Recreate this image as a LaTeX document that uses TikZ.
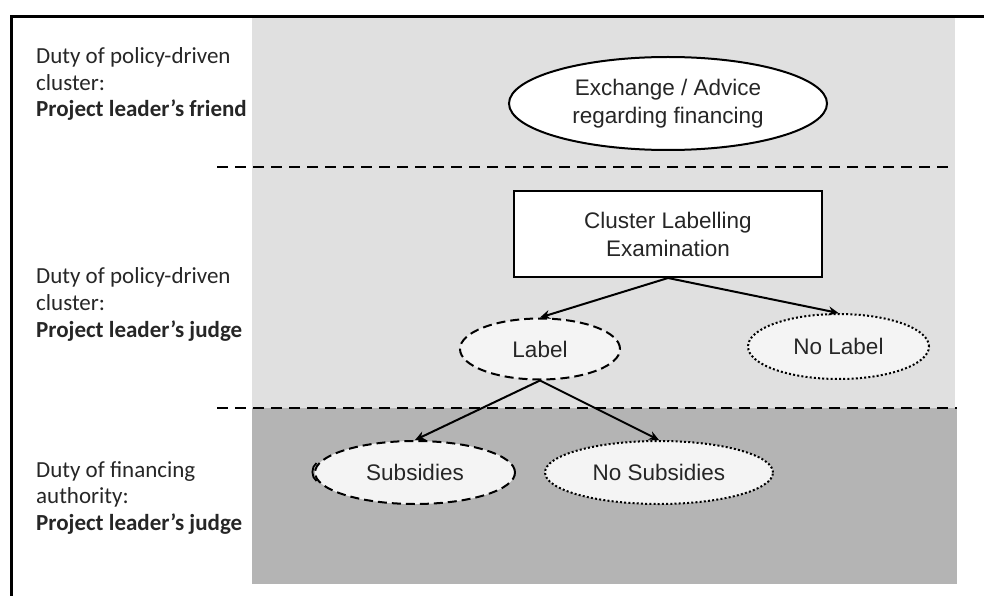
\documentclass[tikz,border=0pt]{standalone}
\usepackage{fontspec}
\setmainfont{Liberation Sans}
\newfontfamily\carlito{Carlito}
\usetikzlibrary{shapes.geometric,arrows.meta}
\definecolor{panellight}{HTML}{E0E0E0}
\definecolor{paneldark}{HTML}{B4B4B4}
\definecolor{nodefill}{HTML}{F4F4F4}
\begin{document}
\begin{tikzpicture}[x=1pt,y=-1pt,
  nodetext/.style={font=\fontsize{22.5}{28}\selectfont, align=center, inner sep=0pt, text=black!85},
  ovalnode/.style={nodetext, ellipse, draw=black, line width=2pt},
  solidoval/.style={ovalnode, fill=white},
  dashoval/.style={ovalnode, fill=nodefill, dash pattern=on 9pt off 5pt},
  dotoval/.style={ovalnode, fill=nodefill, dash pattern=on 2pt off 2.2pt},
  boxnode/.style={nodetext, rectangle, draw=black, line width=2pt, fill=white},
  sidetext/.style={font=\carlito\fontsize{23}{27}\selectfont, anchor=base west, inner sep=0pt, text=black!85},
  separator/.style={line width=2.5pt, dash pattern=on 11pt off 7pt},
  arrowline/.style={line width=2pt, -{Stealth[length=10pt,width=9pt]}}
]
\useasboundingbox (0,0) rectangle (984,596);
% panels
\fill[panellight] (252,17) rectangle (955,408);
\fill[paneldark] (252,408) rectangle (957,584);
% frame
\draw[line width=3pt, line join=miter] (11,596) -- (11,16.5) -- (984,16.5);
% separators
\draw[separator] (217,167) -- (955,167);
\draw[separator] (217,408) -- (957,408);
% side labels
\node[sidetext] (s1a) at (36,64) {Duty of policy-driven};
\node[sidetext] (s1b) at (36,90.5) {cluster:};
\node[sidetext] (s1c) at (36,117) {\bfseries Project leader’s friend};
\node[sidetext] (s2a) at (36,283) {Duty of policy-driven};
\node[sidetext] (s2b) at (36,310) {cluster:};
\node[sidetext] (s2c) at (36,337) {\bfseries Project leader’s judge};
\node[sidetext] (s3a) at (36,477) {Duty of financing};
\node[sidetext] (s3b) at (36,503.5) {authority:};
\node[sidetext] (s3c) at (36,530) {\bfseries Project leader’s judge};
% nodes
\node[solidoval, minimum width=318pt, minimum height=93pt] (exch) at (668,103.5) {Exchange / Advice\\regarding financing};
\node[boxnode, minimum width=308pt, minimum height=86pt] (exam) at (668,234) {Cluster Labelling\\Examination};
\node[dashoval, minimum width=160pt, minimum height=61pt] (lab) at (540,349) {Label};
\node[dotoval, minimum width=181pt, minimum height=65pt] (nolab) at (838.5,346.5) {No Label};
\node[dashoval, minimum width=200pt, minimum height=63pt] (subs) at (415,472.5) {Subsidies};
\node[dotoval, minimum width=228pt, minimum height=63pt] (nosubs) at (659,472.5) {No Subsidies};
% small mark left of Subsidies
\draw[line width=1.8pt] (316.5,463) .. controls (311,467) and (311,477) .. (316.5,481);
% connectors
\draw[arrowline] (exam.south) -- (lab.north);
\draw[arrowline] (exam.south) -- (nolab.north);
\draw[arrowline] (lab.south) -- (subs.north);
\draw[arrowline] (lab.south) -- (nosubs.north);
\end{tikzpicture}
\end{document}
